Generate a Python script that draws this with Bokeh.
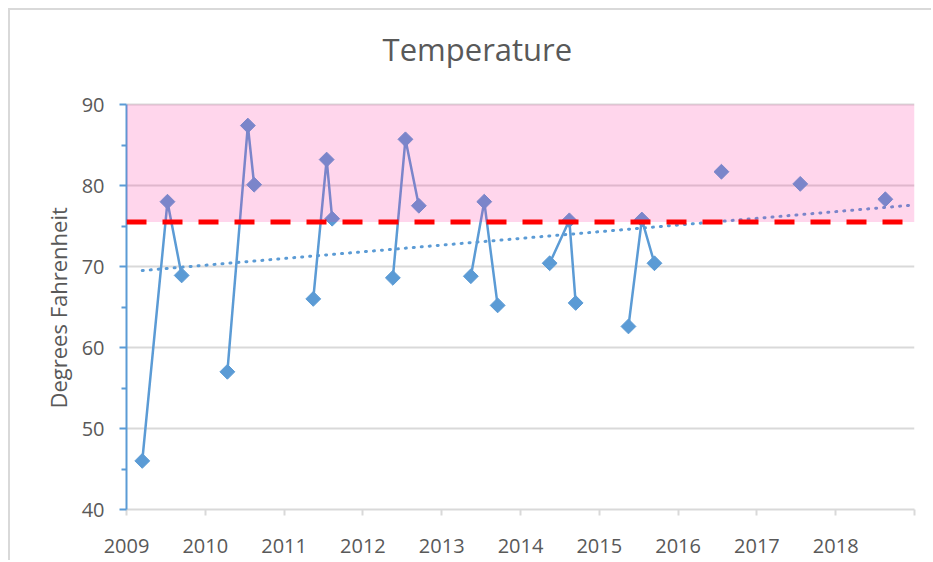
import numpy as np
from bokeh.plotting import figure
from bokeh.models import (Range1d, FixedTicker, BoxAnnotation, Span, Label, Title,
                          ColumnDataSource)
from bokeh.embed import file_html
from bokeh.resources import INLINE

# ---- data ----
years = [2009.20, 2009.52, 2009.70,
         2010.28, 2010.54, 2010.62,
         2011.37, 2011.54, 2011.61,
         2012.38, 2012.54, 2012.71,
         2013.37, 2013.54, 2013.71,
         2014.37, 2014.62, 2014.70,
         2015.37, 2015.54, 2015.70,
         2016.55, 2017.55, 2018.63]
temps = [46.0, 78.0, 68.9,
         57.0, 87.4, 80.1,
         66.0, 83.2, 75.9,
         68.6, 85.7, 77.5,
         68.8, 78.0, 65.2,
         70.4, 75.7, 65.5,
         62.6, 75.8, 70.4,
         81.7, 80.2, 78.3]
# which points are joined by a line (same season); None = stand-alone point
season = [2009, 2009, 2009, 2010, 2010, 2010, 2011, 2011, 2011,
          2012, 2012, 2012, 2013, 2013, 2013, 2014, 2014, 2014,
          2015, 2015, 2015, None, None, None]
trend_x = [2009.20, 2019.0]
trend_y = [69.5, 77.6]
threshold = 75.5
y_min, y_max = 40, 90
y_major = [40, 50, 60, 70, 80, 90]
y_minor = [45, 55, 65, 75, 85]
x_ticks = list(range(2009, 2020))
x_labels = {y: str(y) for y in range(2009, 2019)}
x_labels[2019] = " "
title_text = "Temperature"
y_label_text = "Degrees Fahrenheit"

BLUE = "#5B9BD5"
TXT = "#595959"
GRID = "#D9D9D9"
FONT = "Open Sans"

# frame: 788 x 405 px for the 2009-2019 x 40-90 area; extra headroom above
# the value axis holds the chart title
PX_PER_DEG = 8.1
HEAD_PX = 84
y_top = y_max + HEAD_PX / PX_PER_DEG

p = figure(width=923, height=552, output_backend="svg", toolbar_location=None,
           x_range=Range1d(2009, 2019), y_range=Range1d(y_min, y_top),
           min_border_left=116, min_border_right=19, min_border_top=10,
           min_border_bottom=53, background_fill_color="white",
           border_fill_color="white")
p.outline_line_color = None
# thin grey chart border on the top and left edges
p.styles = {"margin-left": "10px", "margin-top": "10px", "overflow": "hidden",
            "box-shadow": "-2px -2px 0px 0px #D9D9D9"}

# chart title (placed in the head-room area)
p.add_layout(Label(x=2012.25, y=y_max + 56 / PX_PER_DEG, text=title_text,
                   text_font=FONT, text_font_size="31px", text_color=TXT,
                   text_align="left", text_baseline="alphabetic"))

# value-axis title, aligned to the 40-90 part of the frame
p.add_layout(Title(text=y_label_text, align="left", offset=101, text_font=FONT,
                   text_font_size="22px", text_font_style="normal",
                   text_color=TXT, standoff=11), "left")

# axes
p.xaxis.ticker = FixedTicker(ticks=x_ticks)
p.xaxis.major_label_overrides = x_labels
p.xaxis.axis_line_color = GRID
p.xaxis.axis_line_width = 2
p.xaxis.major_tick_line_color = GRID
p.xaxis.major_tick_line_width = 2
p.xaxis.major_tick_out = 6
p.xaxis.major_tick_in = 0
p.xaxis.minor_tick_line_color = None
p.xaxis.major_label_text_font = FONT
p.xaxis.major_label_text_font_size = "20px"
p.xaxis.major_label_text_color = TXT
p.xaxis.major_label_standoff = 16

yt = FixedTicker(ticks=y_major, minor_ticks=y_minor)
p.yaxis.ticker = yt
p.yaxis.bounds = (y_min, y_max)
p.yaxis.axis_line_color = BLUE
p.yaxis.axis_line_width = 2
p.yaxis.major_tick_line_color = BLUE
p.yaxis.major_tick_line_width = 2
p.yaxis.major_tick_out = 7
p.yaxis.major_tick_in = 0
p.yaxis.minor_tick_line_color = BLUE
p.yaxis.minor_tick_line_width = 2
p.yaxis.minor_tick_out = 5
p.yaxis.minor_tick_in = 0
p.yaxis.major_label_text_font = FONT
p.yaxis.major_label_text_font_size = "20px"
p.yaxis.major_label_text_color = TXT
p.yaxis.major_label_standoff = 15

p.xgrid.grid_line_color = None
p.ygrid.ticker = yt
p.ygrid.grid_line_color = GRID
p.ygrid.grid_line_width = 2

# series lines, grouped by season
xs, ys = [], []
for s in sorted(set(v for v in season if v is not None)):
    idx = [i for i, v in enumerate(season) if v == s]
    xs.append([years[i] for i in idx])
    ys.append([temps[i] for i in idx])
p.multi_line(xs, ys, line_color=BLUE, line_width=2.5)

# linear trend (dotted)
p.line(trend_x, trend_y, line_color=BLUE, line_width=3, line_dash="1 7",
       line_cap="round")

# markers
src = ColumnDataSource(dict(x=years, y=temps))
p.scatter("x", "y", source=src, marker="square", angle=np.pi / 4, size=10.5,
          fill_color=BLUE, line_color=BLUE, line_width=1)

# pink "above threshold" zone, drawn over the data
p.add_layout(BoxAnnotation(bottom=threshold, top=y_max, fill_color="#FF2D9E",
                           fill_alpha=0.195, line_color=None))
# threshold line
p.add_layout(Span(location=threshold, dimension="width", line_color="#FF0000",
                  line_width=5, line_dash="20 16"))

open("out.html", "w").write(file_html(p, INLINE))
